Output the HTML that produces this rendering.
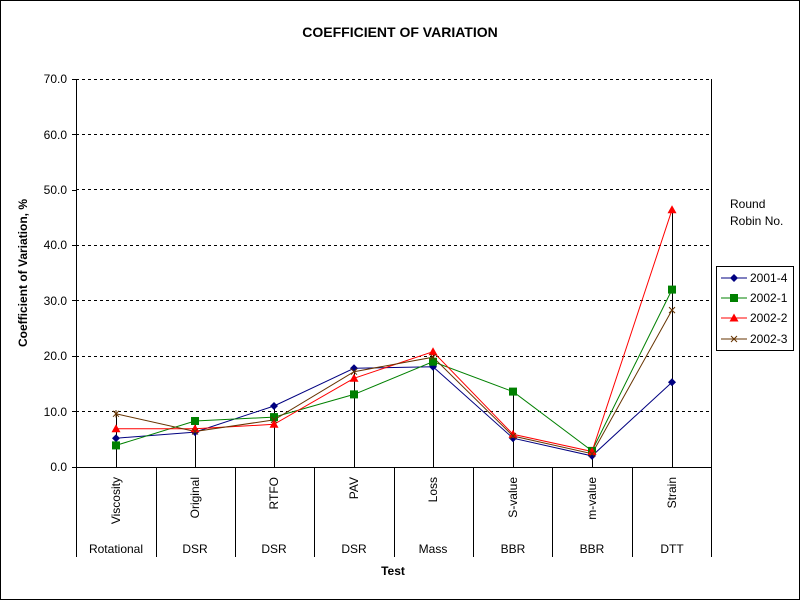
<!DOCTYPE html>
<html><head><meta charset="utf-8"><style>body{margin:0;background:#fff}svg{display:block}text{font-family:"Liberation Sans",Arial,sans-serif;font-size:12px}</style></head><body>
<svg width="800" height="600" xmlns="http://www.w3.org/2000/svg">
<rect x="0.5" y="0.5" width="799" height="599" fill="#fff" stroke="#000"/>
<text x="400" y="37" text-anchor="middle" font-weight="bold" style="font-size:14px">COEFFICIENT OF VARIATION</text>
<g stroke="#000" stroke-dasharray="3,3" stroke-width="1">
<line x1="76" x2="711" y1="411.5" y2="411.5"/><line x1="76" x2="711" y1="356.5" y2="356.5"/><line x1="76" x2="711" y1="300.5" y2="300.5"/><line x1="76" x2="711" y1="245.5" y2="245.5"/><line x1="76" x2="711" y1="189.5" y2="189.5"/><line x1="76" x2="711" y1="134.5" y2="134.5"/><line x1="76" x2="711" y1="79.5" y2="79.5"/>
</g>
<line x1="711.5" y1="79" x2="711.5" y2="467" stroke="#000"/>
<g text-anchor="end">
<text x="67" y="471">0.0</text><text x="67" y="416">10.0</text><text x="67" y="360">20.0</text><text x="67" y="305">30.0</text><text x="67" y="249">40.0</text><text x="67" y="194">50.0</text><text x="67" y="139">60.0</text><text x="67" y="83">70.0</text>
</g>
<text transform="translate(27,273) rotate(-90)" text-anchor="middle" font-weight="bold">Coefficient of Variation, %</text>
<g stroke="#000">
<line x1="76.5" y1="79" x2="76.5" y2="557"/>
<line x1="72" y1="467.5" x2="711" y2="467.5"/>
<line x1="72" y1="79.5" x2="76" y2="79.5"/><line x1="72" y1="134.5" x2="76" y2="134.5"/><line x1="72" y1="190.5" x2="76" y2="190.5"/><line x1="72" y1="245.5" x2="76" y2="245.5"/><line x1="72" y1="300.5" x2="76" y2="300.5"/><line x1="72" y1="356.5" x2="76" y2="356.5"/><line x1="72" y1="411.5" x2="76" y2="411.5"/>
<line x1="156.5" y1="467" x2="156.5" y2="557"/><line x1="235.5" y1="467" x2="235.5" y2="557"/><line x1="314.5" y1="467" x2="314.5" y2="557"/><line x1="394.5" y1="467" x2="394.5" y2="557"/><line x1="473.5" y1="467" x2="473.5" y2="557"/><line x1="552.5" y1="467" x2="552.5" y2="557"/><line x1="632.5" y1="467" x2="632.5" y2="557"/><line x1="711.5" y1="467" x2="711.5" y2="557"/>
<line x1="116.5" y1="413.8" x2="116.5" y2="467"/><line x1="195.5" y1="421" x2="195.5" y2="467"/><line x1="274.5" y1="406" x2="274.5" y2="467"/><line x1="354.5" y1="368.3" x2="354.5" y2="467"/><line x1="433.5" y1="351.7" x2="433.5" y2="467"/><line x1="513.5" y1="391.6" x2="513.5" y2="467"/><line x1="592.5" y1="451" x2="592.5" y2="467"/><line x1="672.5" y1="209.8" x2="672.5" y2="467"/>
</g>
<g>
<text transform="translate(120,477) rotate(-90)" text-anchor="end">Viscosity</text>
<text transform="translate(199,477) rotate(-90)" text-anchor="end">Original</text>
<text transform="translate(278,477) rotate(-90)" text-anchor="end">RTFO</text>
<text transform="translate(358,477) rotate(-90)" text-anchor="end">PAV</text>
<text transform="translate(437,477) rotate(-90)" text-anchor="end">Loss</text>
<text transform="translate(517,477) rotate(-90)" text-anchor="end">S-value</text>
<text transform="translate(596,477) rotate(-90)" text-anchor="end">m-value</text>
<text transform="translate(676,477) rotate(-90)" text-anchor="end">Strain</text>
</g>
<g text-anchor="middle">
<text x="116" y="553">Rotational</text><text x="195" y="553">DSR</text><text x="274" y="553">DSR</text><text x="354" y="553">DSR</text><text x="433" y="553">Mass</text><text x="513" y="553">BBR</text><text x="592" y="553">BBR</text><text x="672" y="553">DTT</text>
<text x="393" y="575" font-weight="bold">Test</text>
</g>
<polyline fill="none" stroke="#000080" points="116,438.2 195,432.1 274,406 354,368.3 433,366.7 513,438.2 592,455.9 672,382.2"/>
<polyline fill="none" stroke="#008000" points="116,445.4 195,421 274,417.1 354,394.4 433,361.7 513,391.6 592,450.9 672,289.6"/>
<polyline fill="none" stroke="#ff0000" points="116,428.8 195,428.8 274,424.3 354,378.3 433,351.7 513,434.3 592,451.5 672,209.8"/>
<polyline fill="none" stroke="#663300" points="116,413.8 195,431.5 274,419.9 354,371.7 433,357.2 513,436 592,453.7 672,310.1"/>
<g fill="#000080">
<path d="M116,434.2l4,4l-4,4l-4,-4z"/><path d="M195,428.1l4,4l-4,4l-4,-4z"/><path d="M274,402l4,4l-4,4l-4,-4z"/><path d="M354,364.3l4,4l-4,4l-4,-4z"/><path d="M433,362.7l4,4l-4,4l-4,-4z"/><path d="M513,434.2l4,4l-4,4l-4,-4z"/><path d="M592,451.9l4,4l-4,4l-4,-4z"/><path d="M672,378.2l4,4l-4,4l-4,-4z"/>
</g>
<g fill="#008000">
<rect x="112" y="441.4" width="8" height="8"/><rect x="191" y="417" width="8" height="8"/><rect x="270" y="413.1" width="8" height="8"/><rect x="350" y="390.4" width="8" height="8"/><rect x="429" y="357.7" width="8" height="8"/><rect x="509" y="387.6" width="8" height="8"/><rect x="588" y="446.9" width="8" height="8"/><rect x="668" y="285.6" width="8" height="8"/>
</g>
<g fill="#ff0000">
<path d="M116,424.3l4.5,8h-9z"/><path d="M195,424.3l4.5,8h-9z"/><path d="M274,419.8l4.5,8h-9z"/><path d="M354,373.8l4.5,8h-9z"/><path d="M433,347.2l4.5,8h-9z"/><path d="M513,429.8l4.5,8h-9z"/><path d="M592,447l4.5,8h-9z"/><path d="M672,205.3l4.5,8h-9z"/>
</g>
<g stroke="#663300" stroke-width="1">
<path d="M113,410.8l6,6m0,-6l-6,6M116,410v7.5"/>
<path d="M192,428.5l6,6m0,-6l-6,6"/><path d="M271,416.9l6,6m0,-6l-6,6"/><path d="M351,368.7l6,6m0,-6l-6,6"/><path d="M430,354.2l6,6m0,-6l-6,6"/><path d="M510,433l6,6m0,-6l-6,6"/><path d="M589,450.7l6,6m0,-6l-6,6"/><path d="M669,307.1l6,6m0,-6l-6,6"/>
</g>
<text x="730" y="208">Round</text>
<text x="730" y="225">Robin No.</text>
<rect x="716.5" y="266.5" width="77" height="84" fill="#fff" stroke="#000"/>
<g>
<line x1="721" x2="747" y1="278" y2="278" stroke="#000080"/><path d="M734,274l4,4l-4,4l-4,-4z" fill="#000080"/><text x="750" y="282">2001-4</text>
<line x1="721" x2="747" y1="298" y2="298" stroke="#008000"/><rect x="730" y="294" width="8" height="8" fill="#008000"/><text x="750" y="302">2002-1</text>
<line x1="721" x2="747" y1="318" y2="318" stroke="#ff0000"/><path d="M734,313.5l4.5,8h-9z" fill="#ff0000"/><text x="750" y="322">2002-2</text>
<line x1="721" x2="747" y1="339" y2="339" stroke="#663300"/><path d="M731,336l6,6m0,-6l-6,6" stroke="#663300"/><text x="750" y="343">2002-3</text>
</g>
</svg>
</body></html>
